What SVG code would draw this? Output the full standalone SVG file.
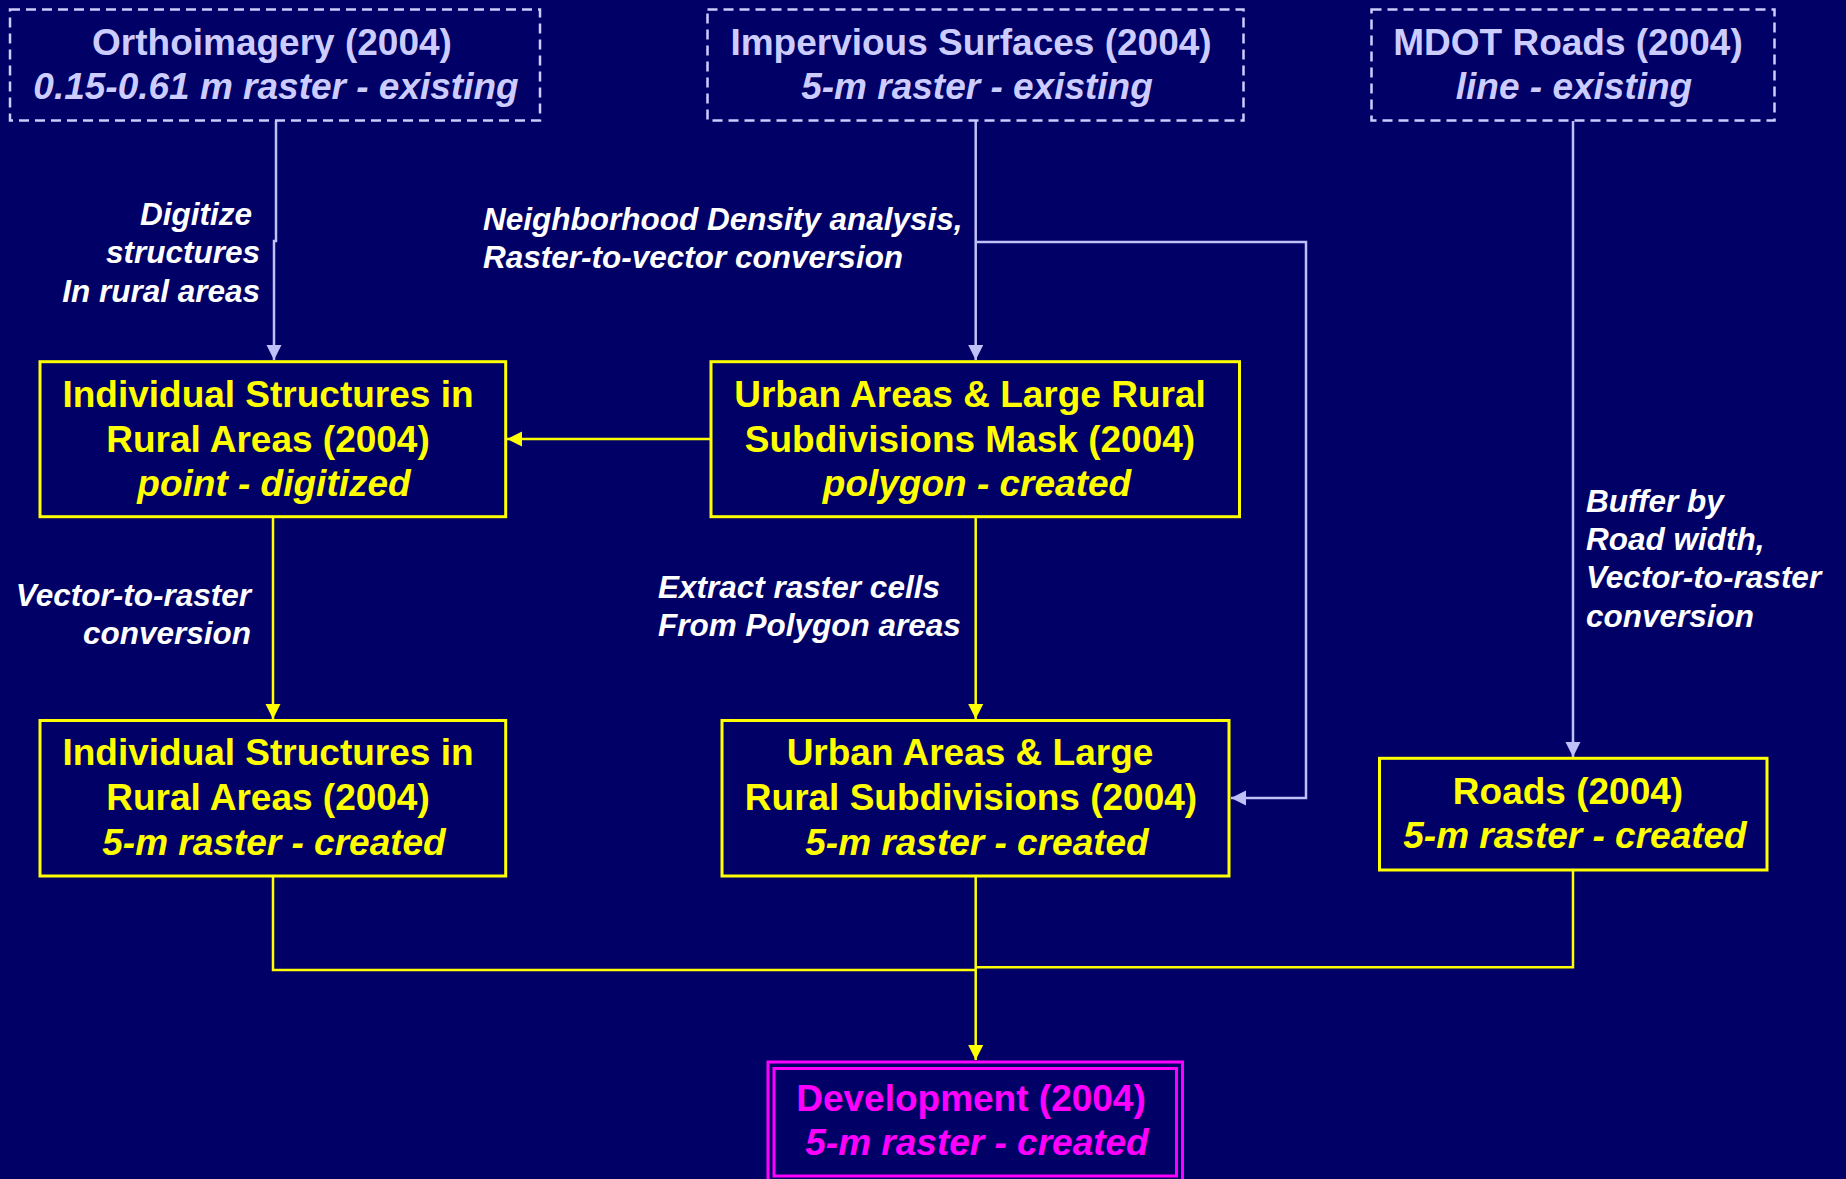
<svg xmlns="http://www.w3.org/2000/svg" width="1846" height="1179" viewBox="0 0 1846 1179">
<style>
text{font-family:"Liberation Sans",Arial,Helvetica,sans-serif;font-weight:bold;}
.n{font-size:37px;text-anchor:middle;}
.i{font-style:italic;}
.src{fill:none;stroke:#CCCCFF;stroke-width:2.5;stroke-dasharray:10 6;}
.srct{fill:#CCCCFF;}
.box{fill:none;stroke:#FFFF00;stroke-width:3;}
.boxt{fill:#FFFF00;}
.dev{fill:none;stroke:#FF00FF;stroke-width:3;}
.devt{fill:#FF00FF;}
.lbl{fill:#FFFFFF;font-size:31.5px;font-style:italic;}
.r{text-anchor:end;}
.cl{fill:none;stroke:#C0C0F8;stroke-width:2.5;}
.cy{fill:none;stroke:#FFFF00;stroke-width:2.5;}
</style>
<defs>
<marker id="al" markerUnits="userSpaceOnUse" markerWidth="16" markerHeight="16" refX="15" refY="7.5" orient="auto"><path d="M0,0 L15,7.5 L0,15 z" fill="#C0C0F8"/></marker>
<marker id="ay" markerUnits="userSpaceOnUse" markerWidth="16" markerHeight="16" refX="15" refY="7.5" orient="auto"><path d="M0,0 L15,7.5 L0,15 z" fill="#FFFF00"/></marker>
</defs>
<rect x="0" y="0" width="1846" height="1179" fill="#000066"/>

<g id="connectors">
<path class="cl" d="M276,121 V241 H274 V360" marker-end="url(#al)"/>
<path class="cl" d="M975.7,121 V360" marker-end="url(#al)"/>
<path class="cl" d="M975.7,242 H1306 V798 H1231" marker-end="url(#al)"/>
<path class="cl" d="M1573,121 V757" marker-end="url(#al)"/>
<path class="cy" d="M711,439 H507" marker-end="url(#ay)"/>
<path class="cy" d="M273,517 V719" marker-end="url(#ay)"/>
<path class="cy" d="M975.7,517 V719" marker-end="url(#ay)"/>
<path class="cy" d="M273,877 V970 H975.7"/>
<path class="cy" d="M1573,871 V967.3 H975.7"/>
<path class="cy" d="M975.7,877 V1060" marker-end="url(#ay)"/>
</g>

<g id="edge-labels">
<text class="lbl r" x="252" y="225">Digitize</text>
<text class="lbl r" x="260" y="263.3">structures</text>
<text class="lbl r" x="260" y="301.7">In rural areas</text>
<text class="lbl" x="483" y="230">Neighborhood Density analysis,</text>
<text class="lbl" x="483" y="268.3">Raster-to-vector conversion</text>
<text class="lbl r" x="251" y="605.5">Vector-to-raster</text>
<text class="lbl r" x="251" y="643.5">conversion</text>
<text class="lbl" x="658" y="598">Extract raster cells</text>
<text class="lbl" x="658" y="636.4">From Polygon areas</text>
<text class="lbl" x="1586" y="511.7">Buffer by</text>
<text class="lbl" x="1586" y="550">Road width,</text>
<text class="lbl" x="1586" y="588.3">Vector-to-raster</text>
<text class="lbl" x="1586" y="627">conversion</text>
</g>

<g id="ortho">
<rect class="src" x="10" y="9.5" width="530" height="111"/>
<text class="n srct" x="272" y="54.5">Orthoimagery (2004)</text>
<text class="n srct i" x="276" y="99">0.15-0.61 m raster - existing</text>
</g>

<g id="impervious">
<rect class="src" x="707.5" y="9.5" width="536" height="111"/>
<text class="n srct" x="971" y="54.5">Impervious Surfaces (2004)</text>
<text class="n srct i" x="977" y="99">5-m raster - existing</text>
</g>

<g id="mdot">
<rect class="src" x="1371.5" y="9.5" width="403" height="111"/>
<text class="n srct" x="1568" y="54.5">MDOT Roads (2004)</text>
<text class="n srct i" x="1574" y="99">line - existing</text>
</g>

<g id="ind-point">
<rect class="box" x="40" y="361.7" width="465.7" height="155"/>
<text class="n boxt" x="268" y="406.7">Individual Structures in</text>
<text class="n boxt" x="268" y="451.7">Rural Areas (2004)</text>
<text class="n boxt i" x="274" y="496">point - digitized</text>
</g>

<g id="urban-mask">
<rect class="box" x="711" y="361.7" width="528.5" height="155"/>
<text class="n boxt" x="970" y="406.7">Urban Areas &amp; Large Rural</text>
<text class="n boxt" x="970" y="451.7">Subdivisions Mask (2004)</text>
<text class="n boxt i" x="977" y="496">polygon - created</text>
</g>

<g id="ind-raster">
<rect class="box" x="40" y="720.5" width="465.7" height="155.5"/>
<text class="n boxt" x="268" y="765.4">Individual Structures in</text>
<text class="n boxt" x="268" y="810.4">Rural Areas (2004)</text>
<text class="n boxt i" x="274" y="854.7">5-m raster - created</text>
</g>

<g id="urban-raster">
<rect class="box" x="722" y="720.5" width="507" height="155.5"/>
<text class="n boxt" x="970" y="765.4">Urban Areas &amp; Large</text>
<text class="n boxt" x="971" y="810.4">Rural Subdivisions (2004)</text>
<text class="n boxt i" x="977" y="854.7">5-m raster - created</text>
</g>

<g id="roads">
<rect class="box" x="1379.5" y="758.3" width="387.5" height="111.7"/>
<text class="n boxt" x="1568" y="804">Roads (2004)</text>
<text class="n boxt i" x="1575" y="848.3">5-m raster - created</text>
</g>

<g id="development">
<rect class="dev" x="768" y="1062" width="414.5" height="125"/>
<rect class="dev" x="774" y="1068.5" width="402.5" height="107.5"/>
<text class="n devt" x="971" y="1110.7">Development (2004)</text>
<text class="n devt i" x="977" y="1155">5-m raster - created</text>
</g>
</svg>
